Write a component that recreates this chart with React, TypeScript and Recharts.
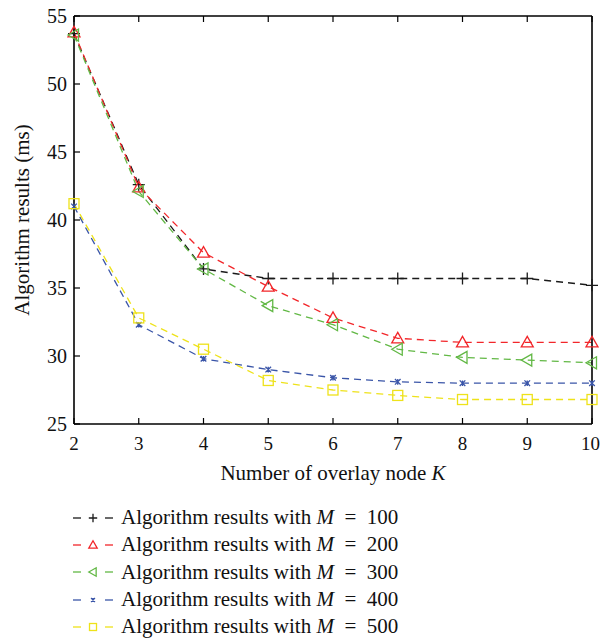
import { LineChart, Line, XAxis, YAxis, Legend } from 'recharts';

// values
const kValues = [2, 3, 4, 5, 6, 7, 8, 9, 10];
const m100 = [53.7, 42.6, 36.4, 35.7, 35.7, 35.7, 35.7, 35.7, 35.2];
const m200 = [53.8, 42.4, 37.6, 35.1, 32.8, 31.3, 31.0, 31.0, 31.0];
const m300 = [53.6, 42.1, 36.4, 33.7, 32.3, 30.5, 29.9, 29.7, 29.5];
const m400 = [41.0, 32.3, 29.8, 29.0, 28.4, 28.1, 28.0, 28.0, 28.0];
const m500 = [41.2, 32.8, 30.5, 28.2, 27.5, 27.1, 26.8, 26.8, 26.8];
const yTicks = [25, 30, 35, 40, 45, 50, 55];
const mLabels = ['100', '200', '300', '400', '500'];

const data = kValues.map((k, i) => ({
  k,
  m100: m100[i],
  m200: m200[i],
  m300: m300[i],
  m400: m400[i],
  m500: m500[i],
}));

const FONT = '"Liberation Serif", "DejaVu Serif", serif';

type Shape = 'plus' | 'triUp' | 'triLeft' | 'star' | 'square';

const series: { key: string; color: string; shape: Shape }[] = [
  { key: 'm100', color: '#1a1a1a', shape: 'plus' },
  { key: 'm200', color: '#f2262a', shape: 'triUp' },
  { key: 'm300', color: '#62b845', shape: 'triLeft' },
  { key: 'm400', color: '#3a55a8', shape: 'star' },
  { key: 'm500', color: '#eee21a', shape: 'square' },
];

function Marker({ cx, cy, shape, color, s = 1 }: { cx: number; cy: number; shape: Shape; color: string; s?: number }) {
  const common = { fill: 'none', stroke: color, strokeWidth: 1.3 };
  if (shape === 'plus') {
    const r = 6 * s;
    return <path d={`M${cx - r},${cy}H${cx + r}M${cx},${cy - r}V${cy + r}`} {...common} />;
  }
  if (shape === 'triUp') {
    const r = 6 * s;
    return <path d={`M${cx},${cy - r}L${cx + r},${cy + r * 0.75}L${cx - r},${cy + r * 0.75}Z`} {...common} />;
  }
  if (shape === 'triLeft') {
    const r = 6 * s;
    return <path d={`M${cx - r},${cy}L${cx + r * 0.75},${cy - r}L${cx + r * 0.75},${cy + r}Z`} {...common} />;
  }
  if (shape === 'star') {
    const r = 2.8 * s;
    return (
      <path
        d={`M${cx - r},${cy - r}L${cx + r},${cy + r}M${cx - r},${cy + r}L${cx + r},${cy - r}M${cx},${cy - r}V${cy + r}`}
        {...common}
      />
    );
  }
  const r = 5 * s;
  return <rect x={cx - r} y={cy - r} width={2 * r} height={2 * r} {...common} />;
}

const BottomTick = (props: any) => {
  const { x, y, payload } = props;
  // last label sits flush with the right edge, as in the original
  const tx = payload.value === 10 ? x - 1.5 : x;
  return (
    <g>
      <line x1={x} y1={y} x2={x} y2={y - 6} stroke="#000" strokeWidth={1.2} />
      <text x={tx} y={y + 26} textAnchor="middle" fontFamily={FONT} fontSize={19} fill="#111">
        {payload.value}
      </text>
    </g>
  );
};

const TopTick = (props: any) => {
  const { x, y } = props;
  return <line x1={x} y1={y} x2={x} y2={y + 6} stroke="#000" strokeWidth={1.2} />;
};

const LeftTick = (props: any) => {
  const { x, y, payload } = props;
  return (
    <g>
      <line x1={x} y1={y} x2={x + 6} y2={y} stroke="#000" strokeWidth={1.2} />
      <text x={x - 7} y={y + 7} textAnchor="end" fontFamily={FONT} fontSize={20} fill="#111">
        {payload.value}
      </text>
    </g>
  );
};

const RightTick = (props: any) => {
  const { x, y } = props;
  return <line x1={x} y1={y} x2={x - 6} y2={y} stroke="#000" strokeWidth={1.2} />;
};

const XLabel = (props: any) => {
  const { x, y, width } = props.viewBox;
  return (
    <text x={x + width / 2} y={y + 56} textAnchor="middle" fontFamily={FONT} fontSize={21} fill="#111">
      Number of overlay node <tspan fontStyle="italic">K</tspan>
    </text>
  );
};

const YLabel = (props: any) => {
  const { y, height } = props.viewBox;
  const cy = y + height / 2;
  return (
    <text
      x={29}
      y={cy}
      transform={`rotate(-90 29 ${cy})`}
      textAnchor="middle"
      fontFamily={FONT}
      fontSize={21}
      fill="#111"
    >
      Algorithm results (ms)
    </text>
  );
};

function LegendBox() {
  return (
    <div style={{ fontFamily: FONT, fontSize: 21, color: '#111' }}>
      {series.map((s, i) => (
        <div key={s.key} style={{ display: 'flex', alignItems: 'center', height: 27.3 }}>
          <svg width={46} height={20} style={{ marginRight: 4, flex: 'none' }}>
            <line x1={2} y1={10} x2={10} y2={10} stroke={s.color} strokeWidth={1.3} />
            <line x1={34} y1={10} x2={42} y2={10} stroke={s.color} strokeWidth={1.3} />
            <Marker cx={22} cy={10} shape={s.shape} color={s.color} s={0.7} />
          </svg>
          <span style={{ whiteSpace: 'nowrap' }}>
            Algorithm results with <i>M</i>&nbsp;&nbsp;=&nbsp;&nbsp;{mLabels[i]}
          </span>
        </div>
      ))}
    </div>
  );
}

export default function App() {
  return (
    <div style={{ position: 'absolute', left: 0, top: 0, background: '#fff' }}>
      <LineChart width={600} height={638} data={data} margin={{ top: 15, right: 7, bottom: 154, left: 20 }}>
        <XAxis
          dataKey="k"
          type="number"
          domain={[2, 10]}
          ticks={kValues}
          tick={BottomTick}
          tickLine={false}
          tickSize={0}
          tickMargin={0}
          height={60}
          axisLine={{ stroke: '#000', strokeWidth: 1.6 }}
          label={XLabel}
        />
        <XAxis
          xAxisId="top"
          orientation="top"
          dataKey="k"
          type="number"
          domain={[2, 10]}
          ticks={kValues}
          tick={TopTick}
          tickLine={false}
          tickSize={0}
          tickMargin={0}
          height={1}
          axisLine={{ stroke: '#000', strokeWidth: 1.6 }}
        />
        <YAxis
          type="number"
          domain={[25, 55]}
          ticks={yTicks}
          tick={LeftTick}
          tickLine={false}
          tickSize={0}
          tickMargin={0}
          width={54}
          axisLine={{ stroke: '#000', strokeWidth: 1.6 }}
          label={YLabel}
        />
        <YAxis
          yAxisId="right"
          orientation="right"
          type="number"
          domain={[25, 55]}
          ticks={yTicks}
          tick={RightTick}
          tickLine={false}
          tickSize={0}
          tickMargin={0}
          width={1}
          axisLine={{ stroke: '#000', strokeWidth: 1.6 }}
        />
        <Legend
          layout="vertical"
          align="center"
          verticalAlign="middle"
          content={() => <LegendBox />}
          wrapperStyle={{ position: 'absolute', left: 71, top: 504, width: 400 }}
        />
        {series.map((s) => (
          <Line
            key={s.key}
            dataKey={s.key}
            type="linear"
            stroke={s.color}
            strokeWidth={1.3}
            strokeDasharray="7 5"
            isAnimationActive={false}
            dot={(p: any) => (
              <Marker key={`${s.key}-${p.index}`} cx={p.cx} cy={p.cy} shape={s.shape} color={s.color} />
            )}
            activeDot={false}
          />
        ))}
      </LineChart>
    </div>
  );
}
